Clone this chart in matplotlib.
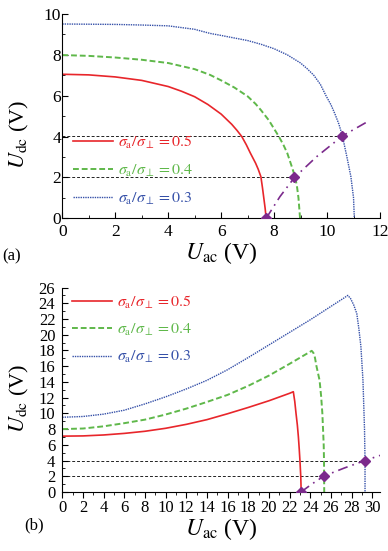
import matplotlib
matplotlib.use('Agg')
import matplotlib.pyplot as plt
from matplotlib.ticker import MultipleLocator

plt.rcParams['font.family'] = ['Liberation Serif', 'DejaVu Serif']
plt.rcParams['mathtext.fontset'] = 'stix'

# --- panel (a): U_dc vs U_ac ---
A_RED_X = [0, 1, 2, 3, 4, 4.5, 5, 5.5, 6, 6.2, 6.4, 6.6, 6.78, 6.95, 7.1, 7.2, 7.3, 7.4, 7.5, 7.56, 7.62, 7.66, 7.7]
A_RED_Y = [7.05, 7.02, 6.92, 6.75, 6.45, 6.22, 5.95, 5.57, 5.1, 4.85, 4.6, 4.3, 4.0, 3.6, 3.2, 2.95, 2.7, 2.4, 2.04, 1.5, 0.9, 0.5, 0]
A_GREEN_X = [0, 1, 2, 3, 4, 5, 5.58, 6, 6.5, 7, 7.3, 7.5, 7.8, 8.0, 8.18, 8.35, 8.5, 8.65, 8.8, 8.87, 8.92, 8.98]
A_GREEN_Y = [7.99, 7.95, 7.87, 7.76, 7.6, 7.3, 7.02, 6.75, 6.4, 5.97, 5.6, 5.3, 4.8, 4.38, 4.0, 3.6, 3.18, 2.6, 2.0, 1.5, 1.0, 0]
A_BLUE_X = [0, 2, 3, 4, 5, 5.58, 6, 7, 7.5, 8, 8.5, 9, 9.25, 9.5, 9.75, 9.96, 10.15, 10.3, 10.45, 10.58, 10.75, 10.9, 11.0, 11.03]
A_BLUE_Y = [9.51, 9.49, 9.46, 9.42, 9.25, 9.05, 8.95, 8.7, 8.52, 8.3, 8.0, 7.6, 7.32, 7.0, 6.55, 6.0, 5.55, 5.1, 4.6, 4.03, 3.0, 2.04, 1.0, 0]
A_PURPLE_X = [7.7, 8.22, 8.77, 9.61, 10.58, 11.46]
A_PURPLE_Y = [0, 1.06, 2.0, 3.02, 4.03, 4.68]
A_MARK_X = [7.7, 8.77, 10.58]
A_MARK_Y = [0, 2.0, 4.03]

# --- panel (b) ---
B_RED_X = [0, 2, 4, 6, 8, 10, 12, 14, 16, 18, 20, 22, 22.36, 22.5, 22.62, 22.75, 22.85, 22.93, 23.0, 23.08, 23.12]
B_RED_Y = [7.1, 7.13, 7.25, 7.45, 7.72, 8.1, 8.6, 9.2, 9.95, 10.75, 11.6, 12.55, 12.75, 11.5, 10.0, 8.5, 7.0, 5.5, 4.0, 2.0, 0]
B_GREEN_X = [0, 2, 4, 6, 8, 10, 12, 14, 16, 18, 20, 22, 24.14, 24.3, 24.45, 24.6, 24.75, 24.9, 25.05, 25.17, 25.3, 25.33, 25.35]
B_GREEN_Y = [8.0, 8.07, 8.35, 8.75, 9.2, 9.85, 10.6, 11.45, 12.35, 13.5, 14.8, 16.3, 17.95, 17.7, 17.1, 16.0, 15.1, 14.2, 12.2, 10.0, 6.0, 4.0, 0]
B_BLUE_X = [0, 2, 4, 6, 8, 10, 12, 14, 16, 18, 20, 22, 24, 26, 27.3, 27.63, 27.9, 28.2, 28.5, 28.7, 28.9, 29.1, 29.25, 29.3, 29.3]
B_BLUE_Y = [9.5, 9.6, 9.9, 10.4, 11.2, 12.1, 13.1, 14.2, 15.55, 17.1, 18.7, 20.3, 21.9, 23.6, 24.7, 25.0, 24.6, 23.8, 22.7, 20.8, 18.5, 14.2, 8.0, 4.0, 0]
B_PURPLE_X = [23.1, 24.2, 25.33, 27.3, 29.3, 30.75]
B_PURPLE_Y = [0, 1.05, 2.03, 3.05, 4.0, 4.65]
B_MARK_X = [23.1, 25.33, 29.3]
B_MARK_Y = [0, 2.03, 4.0]

LABELS = [r'$\sigma_{\rm a}/\sigma_{\perp} = 0.5$',
          r'$\sigma_{\rm a}/\sigma_{\perp} = 0.4$',
          r'$\sigma_{\rm a}/\sigma_{\perp} = 0.3$']

RED = '#e8262b'
GREEN = '#5fb84a'
BLUE = '#3550a8'
PURPLE = '#7b2a8c'

fig = plt.figure(figsize=(3.88, 5.51), dpi=100)
ax1 = fig.add_axes([0.1606, 0.6038, 0.8188, 0.3708])
ax2 = fig.add_axes([0.1606, 0.1071, 0.8188, 0.3711])


def draw_panel(ax, red, green, blue, purple, marks):
    l1, = ax.plot(red[0], red[1], color=RED, lw=1.2, ls='-')
    l2, = ax.plot(green[0], green[1], color=GREEN, lw=1.4, ls=(0, (3, 1.5)))
    l3, = ax.plot(blue[0], blue[1], color=BLUE, lw=1.0, ls=(0, (1, 0.7)))
    # black guide lines from the axis to the marked points
    for mx, my in zip(marks[0][1:], marks[1][1:]):
        ax.plot([0, mx], [my, my], color='#222222', lw=0.7, ls=(0, (3, 2)), zorder=1)
    ax.plot(purple[0], purple[1], color=PURPLE, lw=1.2, ls=(0, (6, 3, 1, 3)))
    ax.plot(marks[0], marks[1], ls='none', marker='D', ms=5.5, color=PURPLE, zorder=5)
    for s in ['top', 'right']:
        ax.spines[s].set_visible(False)
    return [l1, l2, l3]


h1 = draw_panel(ax1, (A_RED_X, A_RED_Y), (A_GREEN_X, A_GREEN_Y), (A_BLUE_X, A_BLUE_Y),
                (A_PURPLE_X, A_PURPLE_Y), (A_MARK_X, A_MARK_Y))
h2 = draw_panel(ax2, (B_RED_X, B_RED_Y), (B_GREEN_X, B_GREEN_Y), (B_BLUE_X, B_BLUE_Y),
                (B_PURPLE_X, B_PURPLE_Y), (B_MARK_X, B_MARK_Y))

# axes (a)
ax1.set_xlim(0, 12)
ax1.set_ylim(0, 10)
ax1.xaxis.set_major_locator(MultipleLocator(2))
ax1.xaxis.set_minor_locator(MultipleLocator(1))
ax1.yaxis.set_major_locator(MultipleLocator(2))
ax1.yaxis.set_minor_locator(MultipleLocator(1))
ax1.tick_params(which='both', direction='in', labelsize=12.5)
ax1.tick_params(axis='x', which='major', pad=4)
ax1.tick_params(axis='y', which='major', pad=1)
ax1.tick_params(which='major', length=4)
ax1.tick_params(which='minor', length=2.5)

# axes (b)
ax2.set_xlim(0, 30.75)
ax2.set_ylim(0, 26)
ax2.xaxis.set_major_locator(MultipleLocator(2))
ax2.xaxis.set_minor_locator(MultipleLocator(1))
ax2.yaxis.set_major_locator(MultipleLocator(2))
ax2.yaxis.set_minor_locator(MultipleLocator(1))
ax2.tick_params(which='both', labelsize=12)
ax2.tick_params(axis='x', which='both', direction='out', pad=2)
ax2.tick_params(axis='y', which='both', direction='in', pad=5)
ax2.tick_params(which='major', length=4)
ax2.tick_params(which='minor', length=2.5)

for ax, ylab_y in [(ax1, 0.41), (ax2, 0.46)]:
    ax.set_xlabel(r'$U_{\rm ac}$ (V)', fontsize=17, labelpad=0)
    ax.set_ylabel(r'$U_{\rm dc}$ (V)', fontsize=16)
    ax.yaxis.set_label_coords(-0.098, ylab_y)

ax1.legend(h1, LABELS, loc='center left', bbox_to_anchor=(0.034, 0.234), frameon=False,
           fontsize=11.5, labelcolor='linecolor', handlelength=2.5, handletextpad=0.3,
           labelspacing=0.75, borderpad=0, borderaxespad=0)
ax2.legend(h2, LABELS, loc='center left', bbox_to_anchor=(0.030, 0.794), frameon=False,
           fontsize=11.5, labelcolor='linecolor', handlelength=2.5, handletextpad=0.3,
           labelspacing=0.7, borderpad=0, borderaxespad=0)

fig.text(0.006, 1 - 256 / 551, '(a)', fontsize=12, va='center', ha='left')
fig.text(0.062, 1 - 525 / 551, '(b)', fontsize=12, va='center', ha='left')

fig.savefig('out.png', dpi=100)
